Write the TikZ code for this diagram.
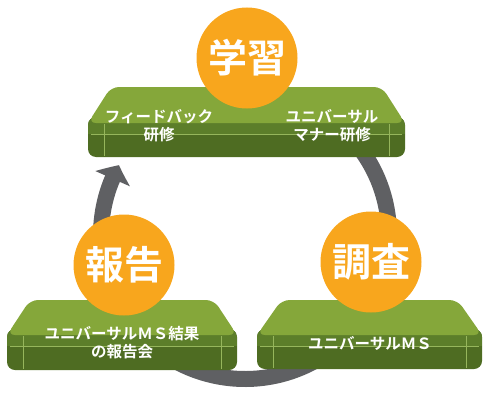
\documentclass[tikz,border=0pt]{standalone}
\usepackage{fontspec}
\setmainfont{Noto Sans CJK JP}[BoldFont=* Bold]
\usetikzlibrary{arrows.meta,bending}
\definecolor{ringc}{RGB}{95,96,99}
\definecolor{orangec}{RGB}{248,166,29}
\definecolor{topc}{RGB}{133,167,58}
\definecolor{frontc}{RGB}{78,108,34}
\definecolor{lipc}{RGB}{92,126,42}
\definecolor{edgec}{RGB}{150,182,92}
\newcommand\myslab[6]{% cx, ytop, a, b, ymid, ybot
  \fill[frontc, rounded corners=8] (#1-#4,#5-6) -- (#1-#4,#6) -- (#1+#4,#6) -- (#1+#4,#5-6) -- cycle;
  \begin{scope}
    \clip[rounded corners=8] (#1-#4,#5-6) -- (#1-#4,#6) -- (#1+#4,#6) -- (#1+#4,#5-6) -- cycle;
    \fill[lipc] (#1-#4,#5-6) rectangle (#1+#4,#5+11);
  \end{scope}
  \draw[edgec, line width=0.5pt] (#1-#4+3,#5+11) -- (#1+#4-3,#5+11);
  \draw[edgec, line width=0.5pt] (#1-#4+16,#5+1) -- (#1-#4+16,#6-1);
  \draw[edgec, line width=0.5pt] (#1+#4-16,#5+1) -- (#1+#4-16,#6-1);
  \fill[topc, rounded corners=8] (#1-#3,#2) -- (#1+#3,#2) -- (#1+#4,#5) -- (#1-#4,#5) -- cycle;
}
\begin{document}
\begin{tikzpicture}[x=1pt,y=-1pt,
  bigc/.style={circle, fill=orangec, minimum size=101pt, inner sep=0pt, text=white,
    font=\bfseries\fontsize{39}{42}\selectfont},
  lbl/.style={text=white, align=center, inner sep=0pt,
    font=\bfseries\fontsize{15.5}{18}\selectfont}]
\useasboundingbox (0,0) rectangle (484,396);
% cycle ring
\coordinate (rc) at (245,235);
\draw[ringc, line width=16pt, -{Triangle[width=37pt,length=15pt,bend]}]
  ([shift={(-40:144)}]rc) arc[start angle=-40, end angle=209, radius=144];
% slabs
\myslab{246.5}{87}{135.5}{158.5}{123}{157}
\myslab{122}{300}{92}{115}{335}{370}
\myslab{369.5}{300}{88}{112.5}{335}{369}
% circles
\node[bigc] (gakushu) at (247,58) {学習};
\node[bigc] (hokoku) at (124,265) {報告};
\node[bigc] (chosa) at (371,262) {調査};
% labels
\node[lbl] (fb) at (159,126) {フィードバック\\研修};
\node[lbl] (um) at (332,126) {ユニバーサル\\マナー研修};
\node[lbl] (rep) at (122,343) {ユニバーサルＭＳ結果\\の報告会};
\node[lbl] (ums) at (370,343) {ユニバーサルＭＳ};
\end{tikzpicture}
\end{document}
